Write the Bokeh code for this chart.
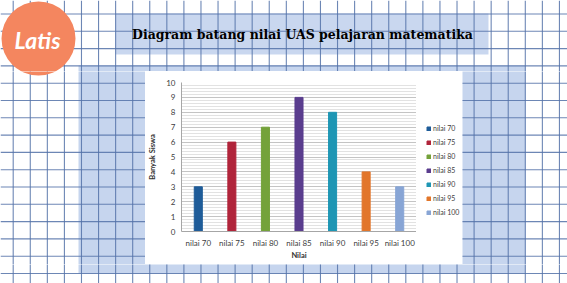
from bokeh.plotting import figure
from bokeh.layouts import column, row
from bokeh.models import (ColumnDataSource, Range1d, SingleIntervalTicker, Legend, LegendItem)
from bokeh.core.properties import value
from bokeh.embed import file_html
from bokeh.resources import INLINE

# ---- data ----
categories = ["nilai 70", "nilai 75", "nilai 80", "nilai 85", "nilai 90", "nilai 95", "nilai 100"]
values = [3, 6, 7, 9, 8, 4, 3]
bar_colors = ["#1F5C99", "#B0243A", "#74A23A", "#5A3D8E", "#1E96B4", "#E2762B", "#88A5D5"]
y_ticks = list(range(0, 11))

title_text = "Diagram batang nilai UAS pelajaran matematika"
logo_text = "Latis"
x_label = "Nilai"
y_label = "Banyak Siswa"

W, H = 567, 283
# chart box on the page: plot part and legend part
CX0, CY0, CX1, CY1 = 145, 71, 462, 264
PX1 = 416   # right edge of plotting frame

GRID_C = "#5472A8"
vx = [12.7 + 17.07 * k for k in range(33)]
hy = [13.5 + 17.3 * k for k in range(16)]


def deco(x0, y0, x1, y1, with_text=False):
    f = figure(width=x1 - x0, height=y1 - y0, x_range=Range1d(x0, x1), y_range=Range1d(y1, y0),
               output_backend="svg", toolbar_location=None, min_border=0,
               x_axis_type=None, y_axis_type=None, frame_align=False)
    f.grid.visible = False
    f.outline_line_color = None
    f.background_fill_color = "white"
    f.border_fill_color = "white"
    f.quad(left=[78], right=[525], top=[65], bottom=[273], fill_color="#C6D5EE", line_color=None)
    f.quad(left=[115], right=[488], top=[13], bottom=[54], fill_color="#C9D7EF", line_color=None)
    f.segment(x0=vx, y0=[0] * len(vx), x1=vx, y1=[H] * len(vx),
              line_color=GRID_C, line_width=1.1, line_alpha=0.85)
    f.segment(x0=[0] * len(hy), y0=hy, x1=[W] * len(hy), y1=hy,
              line_color=GRID_C, line_width=1.1, line_alpha=0.85)
    f.circle(x=[38], y=[38], radius=37, fill_color="#F4865F", line_color=None)
    if with_text:
        f.text(x=[37], y=[39], text=[logo_text], text_align="center", text_baseline="middle",
               text_color="white", text_font=value("Lato"), text_font_style="bold italic",
               text_font_size="23px")
        f.text(x=[302], y=[34], text=[title_text], text_align="center", text_baseline="middle",
               text_color="black", text_font=value("DejaVu Serif"), text_font_style="bold",
               text_font_size="12.5px")
    return f


top = deco(0, 0, W, CY0, with_text=True)
left = deco(0, CY0, CX0, CY1)
right = deco(CX1, CY0, W, CY1)
bottom = deco(0, CY1, W, H)

src = ColumnDataSource(dict(cat=categories, val=values, color=bar_colors))

# ---------------- chart figure ----------------
p = figure(width=PX1 - CX0, height=CY1 - CY0, x_range=categories, y_range=Range1d(0, 10),
           output_backend="svg", toolbar_location=None, frame_align=False,
           min_border_left=30, min_border_right=0, min_border_top=11, min_border_bottom=33)
p.background_fill_color = "white"
p.border_fill_color = "white"
p.outline_line_color = None

p.vbar(x="cat", top="val", width=0.24, color="color", source=src)

p.yaxis.ticker = SingleIntervalTicker(interval=1, num_minor_ticks=5)
p.ygrid.grid_line_color = "#C4C4C4"
p.ygrid.minor_grid_line_color = "#E2E2E2"
p.xgrid.grid_line_color = None

for ax in (p.xaxis[0], p.yaxis[0]):
    ax.axis_line_color = "#A6A6A6"
    ax.major_tick_line_color = None
    ax.minor_tick_line_color = None
    ax.major_tick_out = 0
    ax.major_tick_in = 0
    ax.minor_tick_out = 0
    ax.minor_tick_in = 0
    ax.major_label_text_font = "Lato"
    ax.major_label_text_font_size = "8px"
    ax.major_label_text_color = "#404040"
    ax.axis_label_text_font = "Lato"
    ax.axis_label_text_font_style = "bold"
    ax.axis_label_text_font_size = "7.5px"
    ax.axis_label_text_color = "#303030"

p.xaxis.axis_label = x_label
p.yaxis.axis_label = y_label
p.xaxis.major_label_standoff = 6
p.xaxis.axis_label_standoff = 0
p.yaxis.major_label_standoff = 6
p.yaxis.axis_label_standoff = 6

# ---------------- legend figure (white strip right of the plot) ----------------
lf = figure(width=CX1 - PX1, height=CY1 - CY0, x_range=categories, y_range=Range1d(0, 10),
            output_backend="svg", toolbar_location=None, min_border=0, frame_align=False,
            x_axis_type=None, y_axis_type=None)
lf.grid.visible = False
lf.outline_line_color = None
lf.background_fill_color = "white"
lf.border_fill_color = "white"
lr = lf.vbar(x="cat", top="val", width=0.24, color="color", source=src)
lr.visible = False

items = [LegendItem(label=c, renderers=[lr], index=i) for i, c in enumerate(categories)]
lg = Legend(items=items, location=(10, 47))
lg.padding = 0
lg.margin = 0
lg.spacing = 4
lg.label_height = 10
lg.glyph_height = 5
lg.glyph_width = 5
lg.label_standoff = 2
lg.label_text_font = "Lato"
lg.label_text_font_size = "7px"
lg.label_text_color = "#404040"
lg.background_fill_alpha = 0
lg.border_line_color = None
lg.inactive_fill_alpha = 0
lf.add_layout(lg)

root = column(top, row(left, p, lf, right, spacing=0), bottom, spacing=0)
open("out.html", "w").write(file_html(root, INLINE))
